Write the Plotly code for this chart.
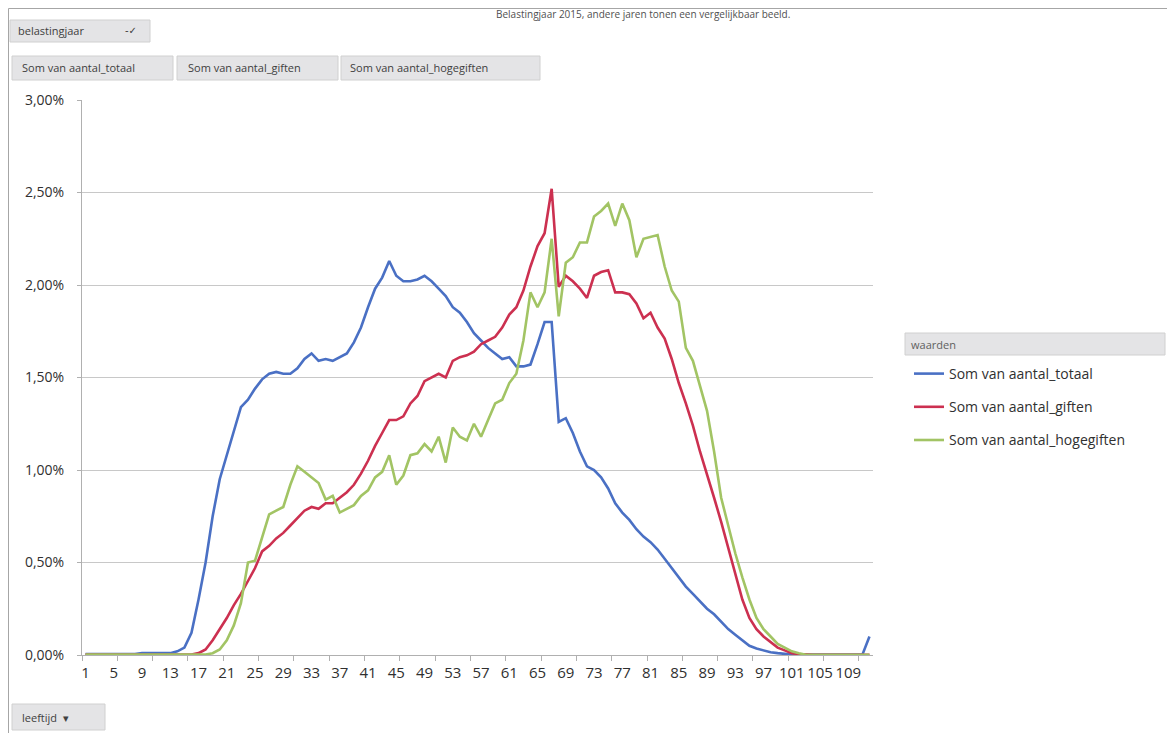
import plotly.graph_objects as go

# ---------------- data (percent of total per age) ----------------
ages = list(range(1, 113))

totaal = [0.005, 0.005, 0.005, 0.005, 0.005, 0.005, 0.005, 0.005, 0.01, 0.01,
          0.01, 0.01, 0.01, 0.02, 0.04, 0.12, 0.30, 0.50, 0.75, 0.95,
          1.08, 1.22, 1.34, 1.38, 1.44, 1.49, 1.52, 1.53, 1.52, 1.52,
          1.55, 1.60, 1.63, 1.59, 1.60, 1.59, 1.61, 1.63, 1.69, 1.77,
          1.88, 1.98, 2.04, 2.13, 2.05, 2.02, 2.02, 2.03, 2.05, 2.02,
          1.98, 1.94, 1.88, 1.85, 1.80, 1.74, 1.70, 1.66, 1.63, 1.60,
          1.61, 1.56, 1.56, 1.57, 1.68, 1.80, 1.80, 1.26, 1.28, 1.20,
          1.10, 1.02, 1.00, 0.96, 0.90, 0.82, 0.77, 0.73, 0.68, 0.64,
          0.61, 0.57, 0.52, 0.47, 0.42, 0.37, 0.33, 0.29, 0.25, 0.22,
          0.18, 0.14, 0.11, 0.08, 0.05, 0.035, 0.025, 0.015, 0.01, 0.005,
          0.002, 0.002, 0.002, 0.002, 0.002, 0.002, 0.002, 0.002, 0.002, 0.002,
          0.002, 0.10]

giften = [0.003, 0.003, 0.003, 0.003, 0.003, 0.003, 0.003, 0.003, 0.003, 0.003,
          0.003, 0.003, 0.003, 0.003, 0.003, 0.003, 0.01, 0.03, 0.08, 0.14,
          0.20, 0.27, 0.33, 0.40, 0.47, 0.56, 0.59, 0.63, 0.66, 0.70,
          0.74, 0.78, 0.80, 0.79, 0.82, 0.82, 0.85, 0.88, 0.92, 0.98,
          1.05, 1.13, 1.20, 1.27, 1.27, 1.29, 1.36, 1.40, 1.48, 1.50,
          1.52, 1.50, 1.59, 1.61, 1.62, 1.64, 1.68, 1.70, 1.72, 1.77,
          1.84, 1.88, 1.97, 2.10, 2.21, 2.28, 2.52, 1.99, 2.05, 2.02,
          1.98, 1.93, 2.05, 2.07, 2.08, 1.96, 1.96, 1.95, 1.90, 1.82,
          1.85, 1.77, 1.71, 1.60, 1.47, 1.36, 1.24, 1.10, 0.98, 0.85,
          0.72, 0.58, 0.45, 0.30, 0.20, 0.14, 0.10, 0.07, 0.04, 0.025,
          0.01, 0.005, 0.001, 0.001, 0.001, 0.001, 0.001, 0.001, 0.001, 0.001,
          0.001, 0.001]

hogegiften = [0.002, 0.002, 0.002, 0.002, 0.002, 0.002, 0.002, 0.002, 0.002, 0.002,
              0.002, 0.002, 0.002, 0.002, 0.002, 0.002, 0.002, 0.002, 0.01, 0.03,
              0.08, 0.16, 0.28, 0.50, 0.51, 0.63, 0.76, 0.78, 0.80, 0.92,
              1.02, 0.99, 0.96, 0.93, 0.84, 0.86, 0.77, 0.79, 0.81, 0.86,
              0.89, 0.96, 0.99, 1.08, 0.92, 0.97, 1.08, 1.09, 1.14, 1.10,
              1.18, 1.04, 1.23, 1.18, 1.16, 1.25, 1.18, 1.27, 1.36, 1.38,
              1.47, 1.52, 1.70, 1.96, 1.88, 1.96, 2.25, 1.83, 2.12, 2.15,
              2.23, 2.23, 2.37, 2.40, 2.44, 2.32, 2.44, 2.35, 2.15, 2.25,
              2.26, 2.27, 2.10, 1.97, 1.91, 1.66, 1.59, 1.45, 1.32, 1.10,
              0.85, 0.70, 0.55, 0.42, 0.30, 0.20, 0.14, 0.10, 0.06, 0.04,
              0.02, 0.01, 0.001, 0.001, 0.001, 0.001, 0.001, 0.001, 0.001, 0.001,
              0.001, 0.001]

series_names = ["Som van aantal_totaal", "Som van aantal_giften", "Som van aantal_hogegiften"]
series_colors = ["#4a70c4", "#cc3050", "#a2c464"]
x_tick_values = list(range(1, 110, 4))
x_tick_labels = [str(v) for v in x_tick_values]
y_tick_values = [0, 0.005, 0.01, 0.015, 0.02, 0.025, 0.03]

# ---------------- layout geometry (page pixels) ----------------
PAGE_W, PAGE_H = 1175, 733
OX, OY = 8, 8                      # default page margin around the figure
FW, FH = PAGE_W - OX, PAGE_H - OY
L, R, T, B = 82, 873, 100, 655     # plot area in page pixels
PW, PH = R - L, B - T


def px_x(px):
    return (px - L) / PW


def px_y(py):
    return (B - py) / PH


FONT = "Open Sans, Noto Sans, sans-serif"
NARROW = "Liberation Sans Narrow, Open Sans, sans-serif"

fig = go.Figure()
for name, vals, col in zip(series_names, [totaal, giften, hogegiften], series_colors):
    fig.add_trace(go.Scatter(
        x=ages, y=[v / 100 for v in vals], mode="lines", name=name,
        legendgroup=name,
        line=dict(color=col, width=2.6), hoverinfo="skip"))

shapes = []
annotations = []

# outer chart border
shapes.append(dict(type="rect", xref="paper", yref="paper",
                   x0=px_x(8.5), x1=px_x(1170), y0=px_y(745), y1=px_y(8.5),
                   line=dict(color="#a6a6a6", width=1), fillcolor="rgba(0,0,0,0)", layer="below"))


def button(x0, x1, y0, y1, text, tx, size=11, color="#404040"):
    shapes.append(dict(type="rect", xref="paper", yref="paper",
                       x0=px_x(x0), x1=px_x(x1), y0=px_y(y1), y1=px_y(y0),
                       line=dict(color="#d0d0d0", width=1), fillcolor="#e4e4e6", layer="below"))
    annotations.append(dict(xref="paper", yref="paper", x=px_x(tx), y=px_y((y0 + y1) / 2),
                            xanchor="left", yanchor="middle", showarrow=False, text=text,
                            font=dict(family=NARROW, size=size, color=color)))


button(10, 150, 20, 42, "belastingjaar", 16)
annotations.append(dict(xref="paper", yref="paper", x=px_x(131), y=px_y(31),
                        xanchor="center", yanchor="middle", showarrow=False, text="-✓",
                        font=dict(family="DejaVu Sans", size=10, color="#404040")))
button(12, 173, 56, 80, "Som van aantal_totaal", 20)
button(177, 338, 56, 80, "Som van aantal_giften", 186)
button(341, 540, 56, 80, "Som van aantal_hogegiften", 348)
button(12, 105, 704, 730, "leeftijd  ▾", 20)

# legend header box ("waarden")
button(905, 1165, 333, 355, "waarden", 909, size=11, color="#606060")

# caption fragment at the top of the scan
annotations.append(dict(xref="paper", yref="paper", x=px_x(792), y=px_y(14),
                        xanchor="right", yanchor="middle", showarrow=False,
                        text="Belastingjaar 2015, andere jaren tonen een vergelijkbaar beeld.",
                        font=dict(family=FONT, size=10, color="#505050")))

fig.update_layout(
    width=FW, height=FH,
    margin=dict(l=L - OX, r=PAGE_W - R, t=T - OY, b=PAGE_H - B),
    paper_bgcolor="white", plot_bgcolor="white",
    separators=",.",
    font=dict(family=FONT, size=13, color="#404040"),
    showlegend=True,
    legend=dict(
        x=px_x(909), y=px_y(358), xanchor="left", yanchor="top",
        bgcolor="rgba(0,0,0,0)",
        font=dict(family=FONT, size=14, color="#303030"),
        tracegroupgap=12,
    ),
    xaxis=dict(
        range=[0.5, 112.5], tickmode="array", tickvals=x_tick_values, ticktext=x_tick_labels,
        showgrid=False, zeroline=False, showline=True, linecolor="#b0b0b0", linewidth=1,
        ticks="", ticklabelstandoff=4,
        tickfont=dict(family=NARROW, size=15, color="#303030"),
        minor=dict(ticks="outside", tick0=0.5, dtick=5, ticklen=5, tickcolor="#b0b0b0", showgrid=False),
        fixedrange=True,
    ),
    yaxis=dict(
        range=[0, 0.03], tickmode="array", tickvals=y_tick_values, tickformat=".2%",
        showgrid=True, gridcolor="#c8c8c8", gridwidth=1, zeroline=False,
        showline=True, linecolor="#b0b0b0", linewidth=1,
        ticks="outside", ticklen=4, tickcolor="#b0b0b0", ticklabelstandoff=10,
        tickfont=dict(family=FONT, size=14, color="#303030"),
        fixedrange=True,
    ),
    shapes=shapes,
    annotations=annotations,
)

fig.write_html("out.html")
